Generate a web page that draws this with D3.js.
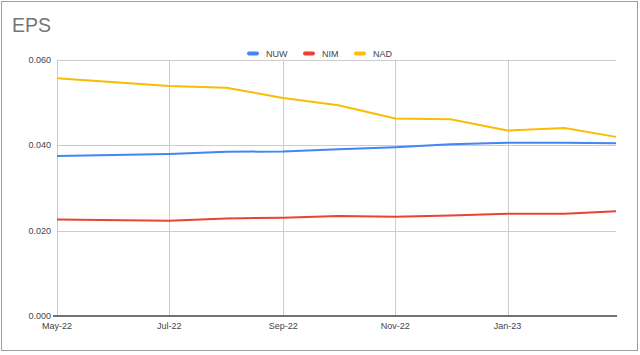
<!DOCTYPE html>
<html>
<head>
<meta charset="utf-8">
<script src="https://cdn.jsdelivr.net/npm/d3@7"></script>
<style>
  html, body { margin: 0; padding: 0; background: #fff; }
  svg { display: block; font-family: "Liberation Sans", Arial, sans-serif; }
</style>
</head>
<body>
<svg id="chart" width="640" height="355"></svg>
<script>
const dates = ["2022-05-01","2022-07-01","2022-08-01","2022-09-01","2022-10-01","2022-11-01","2022-12-01","2023-01-01","2023-02-01","2023-03-01"];
const seriesNames = ["NUW", "NIM", "NAD"];
const nuw = [0.0374, 0.0379, 0.0384, 0.0385, 0.0390, 0.0395, 0.0402, 0.0405, 0.0405, 0.0404];
const nim = [0.0226, 0.0223, 0.0228, 0.0230, 0.0234, 0.0232, 0.0235, 0.0239, 0.0239, 0.0245];
const nad = [0.0556, 0.0538, 0.0534, 0.0510, 0.0493, 0.0462, 0.0460, 0.0434, 0.0440, 0.0419];
const xTickLabels = ["May-22", "Jul-22", "Sep-22", "Nov-22", "Jan-23"];
const yTicks = [0, 0.02, 0.04, 0.06];
const colors = ["#4285f4", "#ea4335", "#fbbc04"];
const title = "EPS";

(function () {
const parseDate = d3.timeParse("%Y-%m-%d");
const parseTick = d3.timeParse("%b-%y");
const xs = dates.map(parseDate);
const series = [nuw, nim, nad];

const svg = d3.select("#chart");
const pLeft = 57, pRight = 616, pTop = 59.5, pBottom = 316;

const x = d3.scaleTime().domain([xs[0], xs[xs.length - 1]]).range([pLeft, pRight]);
const y = d3.scaleLinear().domain([0, 0.06]).range([pBottom, pTop]);

// outer border
svg.append("rect").attr("x", 1.5).attr("y", 1.5).attr("width", 636).attr("height", 349)
  .attr("fill", "#fff").attr("stroke", "#9e9e9e").attr("stroke-width", 1);

// title
svg.append("text").attr("x", 12).attr("y", 32).text(title)
  .attr("font-size", 19.5).attr("fill", "#757575");

// horizontal gridlines
svg.append("g").selectAll("line").data(yTicks.filter(v => v > 0)).join("line")
  .attr("x1", pLeft).attr("x2", pRight)
  .attr("y1", d => Math.round(y(d)) + 0.5).attr("y2", d => Math.round(y(d)) + 0.5)
  .attr("stroke", "#cccccc").attr("stroke-width", 1);

// vertical gridlines
const tickDates = xTickLabels.map(parseTick);
svg.append("g").selectAll("line").data(tickDates).join("line")
  .attr("x1", d => Math.round(x(d)) + 0.5).attr("x2", d => Math.round(x(d)) + 0.5)
  .attr("y1", pTop).attr("y2", pBottom)
  .attr("stroke", "#cccccc").attr("stroke-width", 1);

// y-axis labels
const fmt = d3.format(".3f");
svg.append("g").selectAll("text").data(yTicks).join("text")
  .attr("x", 51).attr("y", d => y(d) + 3.2)
  .attr("text-anchor", "end").attr("font-size", 9).attr("fill", "#444")
  .text(d => fmt(d));

// x-axis labels
svg.append("g").selectAll("text").data(tickDates).join("text")
  .attr("x", d => x(d)).attr("y", 328.5)
  .attr("text-anchor", "middle").attr("font-size", 9).attr("fill", "#444")
  .text((d, i) => xTickLabels[i]);

// lines
const line = d3.line().x((d, i) => x(xs[i])).y(d => y(d));
series.forEach((s, k) => {
  svg.append("path").datum(s).attr("d", line)
    .attr("fill", "none").attr("stroke", colors[k]).attr("stroke-width", 2)
    .attr("stroke-linejoin", "round");
});

// baseline axis
svg.append("line").attr("x1", 53).attr("x2", 617)
  .attr("y1", y(0)).attr("y2", y(0))
  .attr("stroke", "#444").attr("stroke-width", 1.5);

// legend
const legendX = [247, 303, 354];
const lg = svg.append("g");
seriesNames.forEach((n, k) => {
  lg.append("rect").attr("x", legendX[k]).attr("y", 51.5).attr("width", 12).attr("height", 4)
    .attr("rx", 2).attr("fill", colors[k]);
  lg.append("text").attr("x", legendX[k] + 19).attr("y", 56.5)
    .attr("font-size", 9).attr("fill", "#444").text(n);
});
})();
</script>
</body>
</html>
